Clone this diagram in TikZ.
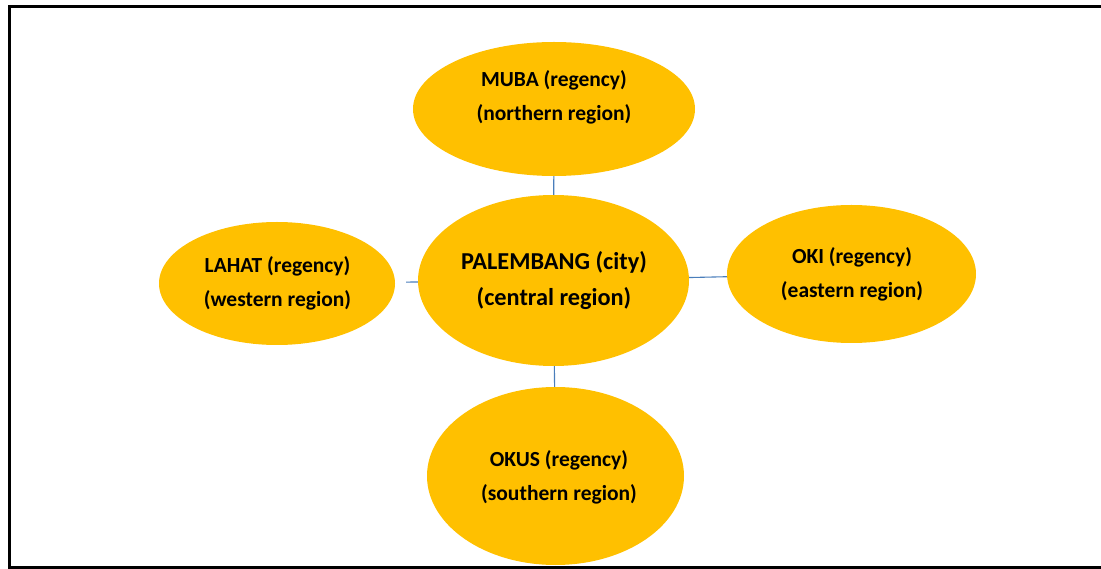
\documentclass[tikz,border=0pt]{standalone}
\usepackage{fontspec}
\setmainfont{Carlito}
\usetikzlibrary{shapes.geometric}
\definecolor{gold}{RGB}{255,192,0}
\definecolor{linkblue}{RGB}{74,126,187}
\tikzset{
  region/.style={ellipse, fill=gold, draw=none, inner sep=0pt},
  label small/.style={align=center, inner sep=0pt,
    font=\bfseries\fontsize{21.5}{34}\selectfont},
  label big/.style={align=center, inner sep=0pt,
    font=\bfseries\fontsize{24.3}{36}\selectfont},
  link/.style={draw=linkblue, line width=1.1pt},
  frame/.style={line width=3pt, black}
}
\begin{document}
\begin{tikzpicture}[x=1pt, y=-1pt]
  \useasboundingbox (0,0) rectangle (1101,569);

  % regions
  \node[region, minimum width=282pt, minimum height=134pt] (muba) at (554,109) {};
  \node[region, minimum width=271pt, minimum height=171pt] (pal) at (553.5,280.5) {};
  \node[region, minimum width=236pt, minimum height=123pt] (lahat) at (277,283.5) {};
  \node[region, minimum width=249pt, minimum height=138pt] (oki) at (851.5,274) {};
  \node[region, minimum width=257pt, minimum height=178pt] (okus) at (555.5,476) {};

  % connections to the central region
  \draw[link] (muba) -- (pal);
  \draw[link] (pal) -- (okus);
  \draw[link, shorten <=11pt] (lahat) -- (pal);
  \draw[link] (pal) -- (oki);

  % texts
  \node[label small] (mubat) at (554,96.5) {\strut MUBA (regency)\\\strut (northern region)};
  \node[label big] (palt) at (554,280.8) {\strut PALEMBANG (city)\\\strut (central region)};
  \node[label small] (lahatt) at (277.5,283) {\strut LAHAT (regency)\\\strut (western region)};
  \node[label small] (okit) at (852,273.3) {\strut OKI (regency)\\\strut (eastern region)};
  \node[label small] (okust) at (559,477) {\strut OKUS (regency)\\\strut (southern region)};

  % frame, open on the right
  \draw[frame] (1101,6.5) -- (9.5,6.5) -- (9.5,567.5) -- (1101,567.5);
\end{tikzpicture}
\end{document}
